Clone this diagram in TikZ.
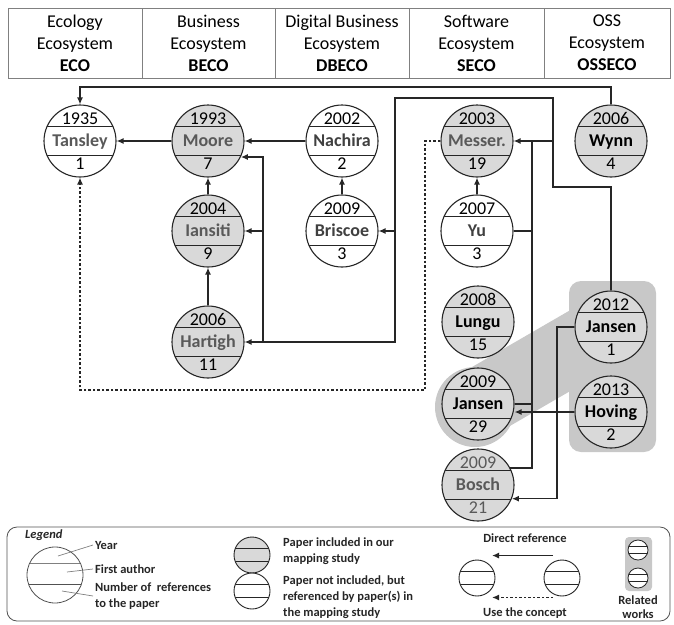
\documentclass[tikz,border=0pt]{standalone}
\usepackage{fontspec}
\setmainfont{Carlito}
\usetikzlibrary{arrows.meta, calc, backgrounds}

\definecolor{paperfill}{HTML}{D9D9D9}
\definecolor{relfill}{HTML}{C8C8C8}
\definecolor{txtgray}{HTML}{595959}
\definecolor{txtdark}{HTML}{404040}
\definecolor{linecol}{HTML}{262626}
\definecolor{headcol}{HTML}{808080}

\tikzset{
  bands/.style={path picture={
    \draw[draw=linecol, line width=1.1pt] ([yshift=#1]path picture bounding box.west) -- ([yshift=#1]path picture bounding box.east);
    \draw[draw=linecol, line width=1.1pt] ([yshift=-#1]path picture bounding box.west) -- ([yshift=-#1]path picture bounding box.east);}},
  paper/.style={circle, draw=linecol, line width=1.1pt, minimum size=72pt, inner sep=0pt, bands=14.5pt},
  smallpaper/.style={circle, draw=linecol, line width=0.9pt, minimum size=36pt, inner sep=0pt, bands=6.5pt},
  tinypaper/.style={circle, draw=linecol, line width=0.8pt, fill=white, minimum size=20pt, inner sep=0pt, bands=3.5pt},
  yeartext/.style={anchor=base, inner sep=0pt, font=\fontsize{18}{20}\selectfont},
  nametext/.style={anchor=base, inner sep=0pt, font=\fontsize{18}{20}\selectfont\bfseries},
  head/.style={align=center, inner sep=0pt, font=\fontsize{18}{22}\selectfont},
  headline/.style={draw=headcol, line width=0.9pt},
  legtext/.style={inner sep=0pt, text=linecol, font=\fontsize{12.5}{15}\selectfont\bfseries},
  leader/.style={draw=headcol, line width=0.7pt},
  joinline/.style={draw=linecol, line width=1.3pt},
  refline/.style={joinline, -{Latex[length=7pt,width=6pt]}},
  conceptline/.style={refline, dash pattern=on 2.5pt off 2pt}
}

\begin{document}
\begin{tikzpicture}[x=1pt, y=-1pt]
\useasboundingbox (0,0) rectangle (674,624);

% header
\draw[headline] (8,8) rectangle (670,78);
\foreach \x in {142,275,409,544}
\draw[headline] (\x,8) -- (\x,78);
\node[head] (hECO) at (75,43) {Ecology\\Ecosystem\\\textbf{ECO}};
\node[head] (hBECO) at (208.5,43) {Business\\Ecosystem\\\textbf{BECO}};
\node[head] (hDBECO) at (342,43) {Digital Business\\Ecosystem\\\textbf{DBECO}};
\node[head] (hSECO) at (476.5,43) {Software\\Ecosystem\\\textbf{SECO}};
\node[head] (hOSSECO) at (607,43) {OSS\\Ecosystem\\\textbf{OSSECO}};

% papers
\foreach \n/\p/\yr/\au/\nr/\f/\c/\d in {
  tansley/{80,141}/1935/Tansley/1/white/txtgray/black,
  moore/{208,141}/1993/Moore/7/paperfill/txtgray/black,
  nachira/{342,141}/2002/Nachira/2/white/txtdark/black,
  messer/{477,141}/2003/Messer./19/paperfill/txtgray/black,
  wynn/{611,141}/2006/Wynn/4/paperfill/black/black,
  iansiti/{208,231}/2004/Iansiti/9/paperfill/txtgray/black,
  briscoe/{342,231}/2009/Briscoe/3/white/txtdark/black,
  yu/{477,231}/2007/Yu/3/white/txtdark/black,
  hartigh/{208,342}/2006/Hartigh/11/paperfill/txtgray/black,
  lungu/{478,322}/2008/Lungu/15/paperfill/black/black,
  jansenA/{611,327}/2012/Jansen/1/paperfill/black/black,
  jansenB/{478,404}/2009/Jansen/29/paperfill/black/black,
  hoving/{611,412}/2013/Hoving/2/paperfill/black/black,
  bosch/{478,485}/2009/Bosch/21/paperfill/txtgray/txtgray}{
  \node[paper, fill=\f] (\n) at (\p) {};
  \node[yeartext, text=\d] (\n-yr) at ([yshift=16.3pt]\n.center) {\yr};
  \node[nametext, text=\c] (\n-au) at ([yshift=-5.8pt]\n.center) {\au};
  \node[yeartext, text=\d] (\n-nr) at ([yshift=-28.7pt]\n.center) {\nr};
}

% related works
\begin{scope}[on background layer]
\fill[relfill, rounded corners=12pt] (569,281) rectangle (656,452);
\draw[relfill, line width=70pt, line cap=round] (jansenB.center) -- (jansenA.center);
\fill[relfill] ($(jansenB.center)+(-3,3)$) circle[radius=40pt];
\end{scope}

% bus corners
\coordinate (k1) at (553,187);
\coordinate (k2) at (395,98);
\coordinate (k3) at (263,342);
\coordinate (k4) at (532,141);
\coordinate (k5) at (425,390);
\coordinate (k6) at (557,327);
\coordinate (top) at (0,87);

% direct references
\draw[refline] (moore.west) -- (tansley.east);
\draw[refline] (nachira.west) -- (moore.east);
\draw[refline] (briscoe.north) -- (nachira.south);
\draw[refline] (iansiti.north) -- (moore.south);
\draw[refline] (hartigh.north) -- (iansiti.south);
\draw[refline] (yu.north) -- (messer.south);
\draw[refline] (wynn.north) -- (wynn.north |- top) -| (tansley.north);
\draw[joinline] (jansenA.north) |- (k1) |- (k2) |- (k3);
\draw[refline] (k3) -- (hartigh.east);
\draw[refline] (k3) |- (moore.-26);
\draw[refline] (k3 |- iansiti.east) -- (iansiti.east);
\draw[refline] (k2 |- briscoe.east) -- (briscoe.east);
\draw[refline] (k1 |- messer.east) -- (messer.east);
\draw[joinline] (bosch.28) -| (k4);
\draw[joinline] (jansenB.east) -- (jansenB.east -| k4);
\draw[joinline] (yu.east) -- (yu.east -| k4);
\draw[refline] (jansenA.west) -- (k6) |- (bosch.-22);
\draw[refline] (hoving.west) -- (hoving.west -| jansenB.east);

% use the concept
\draw[conceptline] (messer.west) -| (k5) -| (tansley.south);

% legend
\draw[draw=linecol!80, line width=0.8pt, rounded corners=10pt] (7,527) rectangle (670,621);
\node[legtext, anchor=base west, font=\fontsize{12.5}{15}\selectfont\bfseries\itshape] (lgTitle) at (25,538) {Legend};
\node[circle, draw=linecol!80, line width=0.8pt, minimum size=56pt, inner sep=0pt,
  path picture={
    \draw[headcol, line width=0.8pt] ([yshift=12pt]path picture bounding box.west) -- ([yshift=12pt]path picture bounding box.east);
    \draw[linecol!80, line width=0.8pt] ([yshift=-9pt]path picture bounding box.west) -- ([yshift=-9pt]path picture bounding box.east);}]
  (lgCirc) at (55,575) {};
\node[legtext, anchor=base west] (lgYear) at (95,549) {Year};
\node[legtext, anchor=base west] (lgAuthor) at (95,573) {First author};
\node[legtext, anchor=base west] (lgNum) at (95,591) {Number of\ \ references};
\node[legtext, anchor=base west] (lgNum2) at (95,607) {to the paper};
\draw[leader] ($(lgCirc.center)+(3,-19)$) -- ([xshift=-2pt,yshift=4pt]lgYear.base west);
\draw[leader] ($(lgCirc.center)+(12,-3)$) -- ([xshift=-2pt,yshift=4pt]lgAuthor.base west);
\draw[leader] ($(lgCirc.center)+(7,16)$) -- ([xshift=-2pt,yshift=-5pt]lgNum.base west);

\node[smallpaper, fill=paperfill] (lgIn) at (252,555) {};
\node[smallpaper, fill=white] (lgOut) at (252,591) {};
\node[legtext, anchor=base west] (lgIn1) at (283,546) {Paper included in our};
\node[legtext, anchor=base west] (lgIn2) at (283,562) {mapping study};
\node[legtext, anchor=base west] (lgOut1) at (283,584) {Paper not included, but};
\node[legtext, anchor=base west] (lgOut2) at (283,600) {referenced by paper(s) in};
\node[legtext, anchor=base west] (lgOut3) at (283,616) {the mapping study};

\node[smallpaper, fill=white] (lgL) at (477,578) {};
\node[smallpaper, fill=white] (lgR) at (562,578) {};
\draw[refline] ([shift={(-9pt,4pt)}]lgR.north) -- ([shift={(15pt,4pt)}]lgL.north);
\draw[conceptline] ([shift={(-9pt,-1pt)}]lgR.south) -- ([shift={(15pt,-1pt)}]lgL.south);
\node[legtext, anchor=base] (lgDirect) at (525,542) {Direct reference};
\node[legtext, anchor=base] (lgUse) at (525,616) {Use the concept};

\fill[relfill, rounded corners=4pt] (625,537) rectangle (652,591);
\node[tinypaper] (lgRelA) at (638,550) {};
\node[tinypaper] (lgRelB) at (638,578) {};
\node[legtext, anchor=base] (lgRel1) at (638,604) {Related};
\node[legtext, anchor=base] (lgRel2) at (638,618) {works};
\end{tikzpicture}
\end{document}
